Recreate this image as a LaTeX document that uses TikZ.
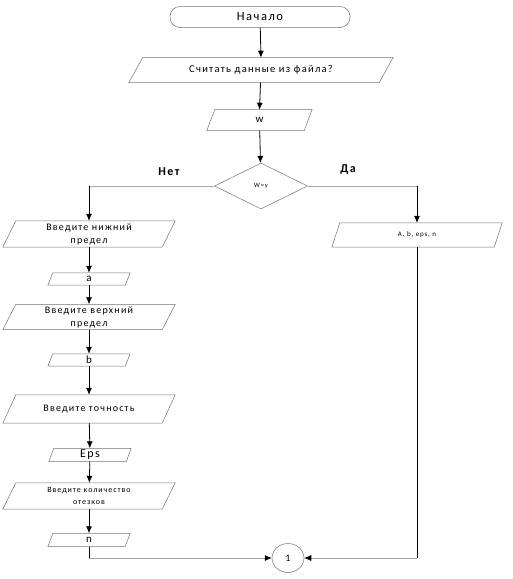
\documentclass[tikz,border=0pt]{standalone}
\usepackage{fontspec}
\usepackage{tikz}
\usetikzlibrary{arrows.meta,shapes.geometric}
\newfontfamily\calibri[LetterSpace=12]{Carlito}

\tikzset{
  box/.style={inner sep=0pt, font=\calibri},
  data/.style={box, minimum width=#1},
  flow/.style={draw=black, line width=0.8pt, -{Latex[length=7pt,width=6pt]}},
  rule/.style={draw=black!35, line width=0.6pt},
  outline/.style={draw=black!55, line width=0.5pt}
}

\begin{document}
\begin{tikzpicture}[x=1pt, y=-1pt]
\useasboundingbox (0,0) rectangle (512,579);
% blocks
\node[box, outline, rounded corners=10pt, minimum width=180pt, minimum height=21pt, font=\calibri\fontsize{12.5}{12}\selectfont] (start) at (260,17) {Начало};
\node[data=250pt, minimum height=25pt, font=\calibri\fontsize{10.5}{10}\selectfont] (read) at (261,70) {Считать данные из файла?};
\node[data=97pt, minimum height=21pt, font=\calibri\fontsize{11}{11}\selectfont] (w) at (259.5,120) {w};
\node[box, outline, diamond, aspect=2, minimum width=93pt, minimum height=46pt, font=\calibri\fontsize{6.5}{6}\selectfont] (dec) at (261,186) {W=y};
\node[font=\calibri\bfseries\fontsize{12}{12}\selectfont] (no) at (169,172) {Нет};
\node[font=\calibri\bfseries\fontsize{12}{12}\selectfont] (yes) at (348,170) {Да};
\node[data=162pt, minimum height=24pt, font=\calibri\fontsize{7}{7}\selectfont] (abn) at (417,235) {A, b, eps, n};
\node[data=159pt, minimum height=26pt, font=\calibri\fontsize{10}{13}\selectfont, align=center] (low) at (89,234) {Введите нижний\\предел};
\node[data=77pt, minimum height=12pt, font=\calibri\fontsize{11}{11}\selectfont] (a) at (89,279) {a};
\node[data=159pt, minimum height=25pt, font=\calibri\fontsize{10}{13}\selectfont, align=center] (up) at (89,317) {Введите верхний\\предел};
\node[data=77pt, minimum height=12pt, font=\calibri\fontsize{11}{11}\selectfont] (b) at (89,360) {b};
\node[data=159pt, minimum height=28pt, font=\calibri\fontsize{10}{10}\selectfont] (acc) at (89,409) {Введите точность};
\node[data=77pt, minimum height=13pt, font=\calibri\fontsize{12}{12}\selectfont] (eps) at (90,455) {Eps};
\node[data=159pt, minimum height=26pt, font=\calibri\fontsize{8}{12}\selectfont, align=center] (cnt) at (89,496) {Введите количество\\отезков};
\node[data=77pt, minimum height=13pt, font=\calibri\fontsize{11}{11}\selectfont] (n) at (89,540) {n};
\node[box, outline, ellipse, minimum width=32pt, minimum height=29pt] (c) at (288,558) {1};
% slanted sides
\foreach \b/\s in {read/7, w/4, abn/4, low/6.5, a/2.5, up/6.5, b/2.5, acc/6.5, eps/2.5, cnt/6.5, n/2.5}
  \draw[outline] ([xshift=\s]\b.north west) -- ([xshift=\s]\b.north east) -- ([xshift=-\s]\b.south east) -- ([xshift=-\s]\b.south west) -- cycle;
% links
\draw[flow] (start) -- ([yshift=-0.4pt]read.north);
\draw[flow] (read) -- ([yshift=-0.4pt]w.north);
\draw[flow] (w) -- (dec);
\coordinate (lt) at (dec.west -| low.north);
\coordinate (rt) at (dec.east -| abn.north);
\draw[rule] (dec.west) -- (lt);
\draw[rule] (dec.east) -- (rt);
\draw[flow] (lt) -- (low.north);
\draw[flow] (rt) -- (abn.north);
\draw[flow] (low) -- (a);
\draw[flow] (a) -- (up);
\draw[flow] (up) -- (b);
\draw[flow] (b) -- (acc);
\draw[flow] (acc) -- (eps);
\draw[flow] (eps) -- (cnt);
\draw[flow] (cnt) -- (n);
\coordinate (lb) at (n.south |- c.west);
\coordinate (rb) at (abn.south |- c.east);
\draw[flow, -] (n.south) -- (lb);
\draw[flow, -] (abn.south) -- (rb);
\draw[rule, -{Latex[length=7pt,width=6pt,color=black]}] (lb) -- (c.west);
\draw[rule, -{Latex[length=7pt,width=6pt,color=black]}] (rb) -- (c.east);
\end{tikzpicture}
\end{document}
